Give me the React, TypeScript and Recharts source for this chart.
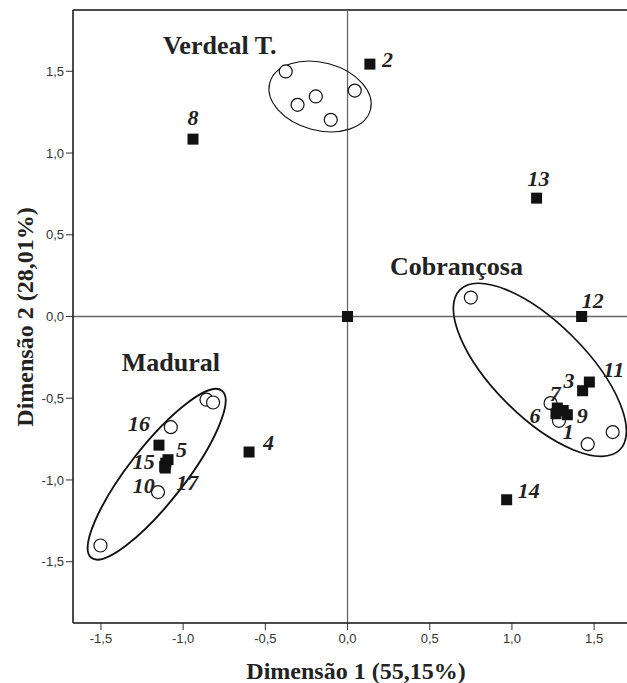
import React from 'react';
import { ScatterChart, Scatter, XAxis, YAxis, ReferenceLine, Customized } from 'recharts';

// ---- data ----
const sampleLabels = ['2', '8', '13', '', '12', '4', '14', '11', '3', '7', '1', '6', '9', '16', '5', '15', '10', '17'];
const sampleDim1 = [0.136, -0.94, 1.15, 0.0, 1.424, -0.599, 0.968, 1.471, 1.43, 1.276, 1.312, 1.268, 1.337, -1.147, -1.092, -1.106, -1.112, -1.109];
const sampleDim2 = [1.544, 1.085, 0.724, 0.0, 0.0, -0.829, -1.121, -0.401, -0.454, -0.56, -0.575, -0.595, -0.601, -0.787, -0.876, -0.897, -0.917, -0.927];

const verdealDim1 = [-0.376, -0.304, -0.193, 0.044, -0.102];
const verdealDim2 = [1.499, 1.295, 1.346, 1.382, 1.203];
const cobrancosaDim1 = [0.75, 1.613, 1.461, 1.235, 1.286];
const cobrancosaDim2 = [0.116, -0.707, -0.781, -0.53, -0.638];
const maduralDim1 = [-0.858, -0.818, -1.075, -1.153, -1.503];
const maduralDim2 = [-0.509, -0.526, -0.677, -1.074, -1.401];

const groupNames = ['Verdeal T.', 'Cobrançosa', 'Madural'];
const groupCenterDim1 = [-0.167, 1.17, -1.161];
const groupCenterDim2 = [1.346, -0.326, -0.965];
const groupSemiMajor = [0.317, 0.688, 0.645];
const groupSemiMinor = [0.207, 0.286, 0.171];
const groupAngle = [-15, -45, 52];
const groupTitleDim1 = [-0.777, 0.663, -1.075];
const groupTitleDim2 = [1.607, 0.255, -0.336];

const xTicks = [-1.5, -1.0, -0.5, 0.0, 0.5, 1.0, 1.5];
const yTicks = [-1.5, -1.0, -0.5, 0.0, 0.5, 1.0, 1.5];
const X_DOMAIN = [-1.67, 1.7];
const Y_DOMAIN = [-1.875, 1.875];

// ---- layout / styles ----
const W = 627;
const H = 683;
const MARGIN = { top: 10, right: 0, bottom: 30, left: 0 };
const Y_AXIS_W = 73;
const X_AXIS_H = 30;
const PLOT_W = W - MARGIN.left - MARGIN.right - Y_AXIS_W;
const PLOT_H = H - MARGIN.top - MARGIN.bottom - X_AXIS_H;
const KX = PLOT_W / (X_DOMAIN[1] - X_DOMAIN[0]);
const KY = PLOT_H / (Y_DOMAIN[1] - Y_DOMAIN[0]);

const ELLIPSE_STROKE = [1.1, 1.7, 1.9];
const LABEL_POS: Record<string, [number, number, string]> = {
  '2': [12, 3, 'start'],
  '8': [0, -14, 'middle'],
  '13': [2, -12, 'middle'],
  '12': [11, -9, 'middle'],
  '4': [14, -2, 'start'],
  '14': [11, -2, 'start'],
  '11': [14, -5, 'start'],
  '3': [-8, -3, 'end'],
  '7': [-2, -7, 'middle'],
  '6': [-21, 9, 'middle'],
  '9': [15, 8, 'middle'],
  '1': [5, 29, 'middle'],
  '16': [-9, -14, 'end'],
  '5': [8, -3, 'start'],
  '15': [-11, 5.5, 'end'],
  '10': [-10, 27, 'end'],
  '17': [11, 22, 'start'],
};

const SERIF = '"Liberation Serif", "Times New Roman", serif';
const SANS = '"Liberation Sans", Arial, sans-serif';

const samples = sampleLabels.map((id, i) => ({ id, x: sampleDim1[i], y: sampleDim2[i] }));
const toPts = (xs: number[], ys: number[]) => xs.map((x, i) => ({ x, y: ys[i] }));
const circles = [
  ...toPts(verdealDim1, verdealDim2),
  ...toPts(cobrancosaDim1, cobrancosaDim2),
  ...toPts(maduralDim1, maduralDim2),
];
const ellipses = groupNames.map((name, i) => ({
  name,
  idx: i,
  x: groupCenterDim1[i],
  y: groupCenterDim2[i],
  a: groupSemiMajor[i],
  b: groupSemiMinor[i],
  angle: groupAngle[i],
}));
const titles = groupNames.map((name, i) => ({ name, x: groupTitleDim1[i], y: groupTitleDim2[i] }));

const fmt = (v: number) => v.toFixed(1).replace('.', ',');

const EllipseShape = (p: any) => {
  const { cx, cy, payload } = p;
  return (
    <ellipse
      cx={cx}
      cy={cy}
      rx={payload.a * KX}
      ry={payload.b * KY}
      transform={`rotate(${-payload.angle} ${cx} ${cy})`}
      fill="none"
      stroke="#111"
      strokeWidth={ELLIPSE_STROKE[payload.idx]}
    />
  );
};

const CircleShape = (p: any) => (
  <circle cx={p.cx} cy={p.cy} r={6.5} fill="#fff" stroke="#111" strokeWidth={1.2} />
);

const SquareShape = (p: any) => (
  <rect x={p.cx - 5.5} y={p.cy - 5.5} width={11} height={11} fill="#111" />
);

const LabelShape = (p: any) => {
  const id = p.payload.id;
  if (!id) return <g />;
  const [dx, dy, anchor] = LABEL_POS[id];
  return (
    <text
      x={p.cx + dx}
      y={p.cy + dy}
      textAnchor={anchor as any}
      fontFamily={SERIF}
      fontStyle="italic"
      fontWeight="bold"
      fontSize={22}
      fill="#222"
    >
      {id}
    </text>
  );
};

const TitleShape = (p: any) => (
  <text
    x={p.cx}
    y={p.cy}
    textAnchor="middle"
    fontFamily={SERIF}
    fontWeight="bold"
    fontSize={26}
    fill="#222"
  >
    {p.payload.name}
  </text>
);

const AxisTitles = () => (
  <g>
    <text x={356} y={679} textAnchor="middle" fontFamily={SERIF} fontWeight="bold" fontSize={24} fill="#222">
      Dimensão 1 (55,15%)
    </text>
    <text
      x={33}
      y={317}
      transform="rotate(-90 33 317)"
      textAnchor="middle"
      fontFamily={SERIF}
      fontWeight="bold"
      fontSize={24}
      fill="#222"
    >
      Dimensão 2 (28,01%)
    </text>
  </g>
);

export default function App() {
  return (
    <div style={{ position: 'absolute', left: 0, top: 0, background: '#fff' }}>
      <ScatterChart width={W} height={H} margin={MARGIN}>
        <XAxis
          type="number"
          dataKey="x"
          domain={X_DOMAIN}
          ticks={xTicks}
          tickFormatter={fmt}
          allowDataOverflow
          height={X_AXIS_H}
          axisLine={{ stroke: '#111', strokeWidth: 1.5 }}
          tickLine={{ stroke: '#333' }}
          tickSize={7}
          tickMargin={4}
          tick={{ fontFamily: SANS, fontSize: 13, fill: '#333' }}
        />
        <YAxis
          type="number"
          dataKey="y"
          domain={Y_DOMAIN}
          ticks={yTicks}
          tickFormatter={fmt}
          allowDataOverflow
          width={Y_AXIS_W}
          axisLine={{ stroke: '#111', strokeWidth: 1.5 }}
          tickLine={{ stroke: '#333' }}
          tickSize={7}
          tickMargin={2}
          tick={{ fontFamily: SANS, fontSize: 13, fill: '#333' }}
        />
        <ReferenceLine y={Y_DOMAIN[1]} stroke="#111" strokeWidth={1.5} />
        <ReferenceLine x={0} stroke="#666" strokeWidth={1.3} />
        <ReferenceLine y={0} stroke="#666" strokeWidth={1.3} />
        <Scatter data={ellipses} shape={EllipseShape} isAnimationActive={false} />
        <Scatter data={circles} shape={CircleShape} isAnimationActive={false} />
        <Scatter data={samples} shape={SquareShape} isAnimationActive={false} />
        <Scatter data={samples} shape={LabelShape} isAnimationActive={false} />
        <Scatter data={titles} shape={TitleShape} isAnimationActive={false} />
        <Customized component={AxisTitles} />
      </ScatterChart>
    </div>
  );
}
